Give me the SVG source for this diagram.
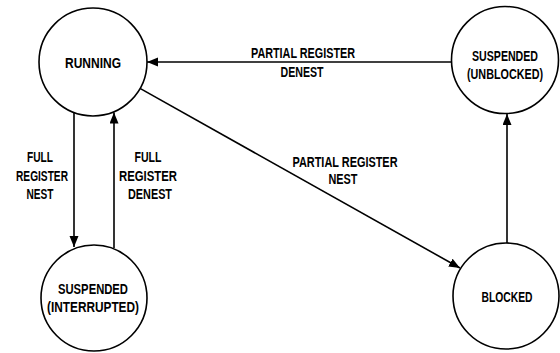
<svg xmlns="http://www.w3.org/2000/svg" width="560" height="353" viewBox="0 0 560 353">
  <defs>
    <style>
      .state { fill: #ffffff; stroke: #000000; stroke-width: 1.6; }
      .edge { fill: none; stroke: #000000; stroke-width: 1.6; }
      text { font-family: "Liberation Sans", Arial, sans-serif; font-size: 14.5px; font-weight: bold; fill: #000000; text-anchor: middle; }
    </style>
    <marker id="arrow" markerUnits="userSpaceOnUse" markerWidth="12" markerHeight="10" refX="11" refY="4.5" orient="auto">
      <path d="M0,0 L11,4.5 L0,9 Z" fill="#000000"/>
    </marker>
  </defs>

  <rect width="560" height="353" fill="#ffffff"/>

  <!-- transitions -->
  <g id="connectors">
    <line class="edge" x1="452" y1="62" x2="147" y2="62" marker-end="url(#arrow)"/>
    <line class="edge" x1="140" y1="88.4" x2="460" y2="268" marker-end="url(#arrow)"/>
    <line class="edge" x1="74" y1="112.5" x2="74" y2="247" marker-end="url(#arrow)"/>
    <line class="edge" x1="114" y1="248" x2="114" y2="112.5" marker-end="url(#arrow)"/>
    <line class="edge" x1="507" y1="243" x2="507" y2="114" marker-end="url(#arrow)"/>

    <text x="303" y="58" textLength="104" lengthAdjust="spacingAndGlyphs">PARTIAL REGISTER</text>
    <text x="302" y="77" textLength="43" lengthAdjust="spacingAndGlyphs">DENEST</text>

    <text x="345" y="167" textLength="105" lengthAdjust="spacingAndGlyphs">PARTIAL REGISTER</text>
    <text x="343" y="184" textLength="29" lengthAdjust="spacingAndGlyphs">NEST</text>

    <text x="40" y="162" textLength="26" lengthAdjust="spacingAndGlyphs">FULL</text>
    <text x="42" y="181" textLength="52" lengthAdjust="spacingAndGlyphs">REGISTER</text>
    <text x="40" y="199" textLength="27" lengthAdjust="spacingAndGlyphs">NEST</text>

    <text x="148" y="162" textLength="27" lengthAdjust="spacingAndGlyphs">FULL</text>
    <text x="148" y="181" textLength="58" lengthAdjust="spacingAndGlyphs">REGISTER</text>
    <text x="150" y="199" textLength="44" lengthAdjust="spacingAndGlyphs">DENEST</text>
  </g>

  <!-- states -->
  <g id="running">
    <circle class="state" cx="93" cy="62" r="54"/>
    <text x="93" y="68" textLength="56" lengthAdjust="spacingAndGlyphs">RUNNING</text>
  </g>

  <g id="suspended-unblocked">
    <circle class="state" cx="505" cy="60" r="53.5"/>
    <text x="505" y="61" textLength="66" lengthAdjust="spacingAndGlyphs">SUSPENDED</text>
    <text x="505" y="79" textLength="76" lengthAdjust="spacingAndGlyphs">(UNBLOCKED)</text>
  </g>

  <g id="suspended-interrupted">
    <circle class="state" cx="94" cy="298" r="53"/>
    <text x="93" y="294" textLength="70" lengthAdjust="spacingAndGlyphs">SUSPENDED</text>
    <text x="93" y="312" textLength="92" lengthAdjust="spacingAndGlyphs">(INTERRUPTED)</text>
  </g>

  <g id="blocked">
    <circle class="state" cx="506" cy="296" r="53"/>
    <text x="507" y="302" textLength="51" lengthAdjust="spacingAndGlyphs">BLOCKED</text>
  </g>
</svg>
